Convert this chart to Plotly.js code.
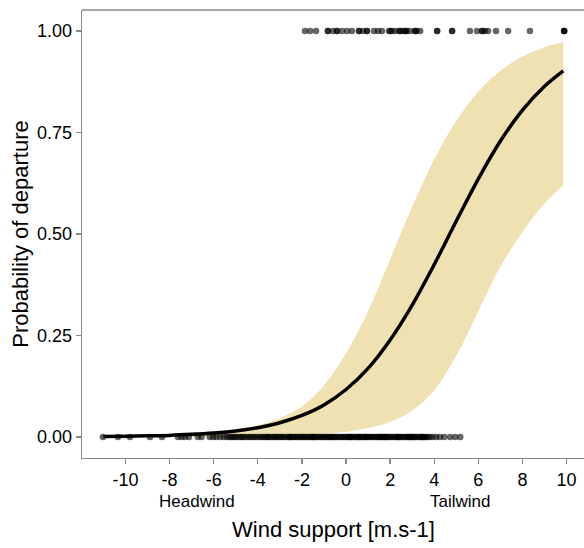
<!DOCTYPE html>
<html>
<head>
<meta charset="utf-8">
<script src="https://cdn.plot.ly/plotly-3.0.1.min.js"></script>
<style>html,body{margin:0;padding:0;background:#fff;}#chart{width:584px;height:548px;}</style>
</head>
<body>
<div id="chart"></div>
<script>
// Fitted curve and confidence band
var fitX     = [-11, -10, -9, -8, -7, -6, -5, -4, -3, -2, -1, 0, 1, 2, 3, 4, 5, 6, 7, 8, 9, 9.85];
var fitP     = [0.001, 0.002, 0.003, 0.004, 0.0065, 0.010, 0.015, 0.023, 0.035, 0.053, 0.079, 0.117, 0.169, 0.239, 0.325, 0.425, 0.532, 0.636, 0.729, 0.805, 0.864, 0.902];
var fitLower = [0.000, 0.000, 0.000, 0.000, 0.000, 0.001, 0.001, 0.002, 0.003, 0.004, 0.008, 0.013, 0.022, 0.037, 0.065, 0.115, 0.200, 0.310, 0.420, 0.505, 0.575, 0.620];
var fitUpper = [0.004, 0.005, 0.006, 0.008, 0.010, 0.014, 0.020, 0.029, 0.046, 0.075, 0.127, 0.206, 0.310, 0.438, 0.567, 0.684, 0.779, 0.851, 0.902, 0.937, 0.960, 0.973];

// Observations: departures (1) and non-departures (0)
var depX = [-1.86, -1.63, -1.36, -0.82, -0.82, -0.59, -0.41, -0.41, -0.18, 0.05, 0.27, 0.59, 0.59, 0.77, 0.95, 0.95, 1.27, 1.45, 1.63, 1.95, 2.00, 2.08, 2.22, 2.40, 2.45, 2.52, 2.68, 2.68, 2.75, 2.90, 3.13, 3.13, 3.20, 3.36, 4.13, 4.13, 4.81, 4.81, 5.62, 5.94, 6.17, 6.17, 6.30, 6.44, 6.80, 7.35, 8.34, 9.89, 9.89, 9.89];
var noDepX = [-11.02, -10.34, -9.80, -8.89, -8.34, -7.62, -7.45, -7.30, -7.12, -6.72, -6.55, -6.18, -6.02, -5.88, -5.70, -5.55, -5.40, -5.31, -5.12, -4.98, -4.85, -4.70, -4.52, -4.40, -4.22, -4.05, -3.93, -3.77, -3.60, -3.48, -3.30, -3.18, -3.02, -2.88, -2.71, -2.60, -2.45, -2.30, -2.17, -2.02, -1.90, -1.76, -1.62, -1.48, -1.33, -1.20, -1.05, -0.93, -0.80, -0.64, -0.52, -0.38, -0.22, -0.10, 0.04, 0.18, 0.30, 0.45, 0.58, 0.73, 0.86, 1.00, 1.14, 1.27, 1.42, 1.55, 1.70, 1.83, 1.97, 2.10, 2.26, 2.39, 2.52, 2.68, 2.80, 2.95, 3.08, 3.22, 3.37, 3.50, 3.63, 3.80, 3.92, 4.08, 4.25, 4.45, 4.72, 4.95, 5.18,
             -5.22, -5.05, -4.77, -4.61, -4.33, -4.14, -3.85, -3.69, -3.41, -3.24, -3.09, -2.94, -2.79, -2.53, -2.38, -2.24, -2.09, -1.96, -1.83, -1.69, -1.55, -1.41, -1.27, -1.12, -0.99, -0.86, -0.72, -0.58, -0.45, -0.31, -0.16, -0.03, 0.11, 0.24, 0.37, 0.51, 0.66, 0.79, 0.93, 1.07, 1.20, 1.35, 1.48, 1.62, 1.76, 1.90, 2.03, 2.18, 2.32, 2.46, 2.60, 2.74, 2.88, 3.01, 3.15, 3.29, 3.43, 3.56, 3.70,
             -1.50, -0.70, 0.15, 0.90, 1.60, 2.35, 3.00, 3.45, -2.55, -3.55, 0.60, 1.80, 2.85];
var depY = depX.map(function(){return 1;});
var noDepY = noDepX.map(function(){return 0;});

var xTickVals = [-10, -8, -6, -4, -2, 0, 2, 4, 6, 8, 10];
var xTickText = ["-10", "-8", "-6", "-4", "-2", "0", "2", "4", "6", "8", "10"];
var yTickVals = [0, 0.25, 0.5, 0.75, 1];
var yTickText = ["0.00", "0.25", "0.50", "0.75", "1.00"];
var sideLabels = ["Headwind", "Tailwind"];
var sideLabelX = [-6.77, 5.17];
var xTitle = "Wind support [m.s-1]";
var yTitle = "Probability of departure";

var font = "Liberation Sans, Arial, sans-serif";
var ribbon = "#EFE1B1";

var traces = [
  {x: fitX, y: fitLower, type: "scatter", mode: "lines", line: {width: 0, shape: "spline"}, hoverinfo: "skip", showlegend: false},
  {x: fitX, y: fitUpper, type: "scatter", mode: "lines", fill: "tonexty", fillcolor: ribbon, line: {width: 0, shape: "spline"}, hoverinfo: "skip", showlegend: false},
  {x: fitX, y: fitP, type: "scatter", mode: "lines", line: {color: "#000", width: 3.5, shape: "spline"}, showlegend: false},
  {x: noDepX, y: noDepY, type: "scatter", mode: "markers", marker: {color: "rgba(0,0,0,0.6)", size: 6.5, line: {width: 0}}, showlegend: false},
  {x: depX, y: depY, type: "scatter", mode: "markers", marker: {color: "rgba(0,0,0,0.6)", size: 6.5, line: {width: 0}}, showlegend: false}
];

var annotations = sideLabels.map(function(t, i){
  return {text: t, x: sideLabelX[i], xref: "x", y: 0, yref: "paper", yanchor: "middle", yshift: -43, showarrow: false, font: {family: font, size: 17, color: "#000"}};
});
annotations.push({text: xTitle, x: 0.5, xref: "paper", xanchor: "center", y: 0, yref: "paper", yanchor: "middle", yshift: -71, showarrow: false, font: {family: font, size: 22, color: "#000"}});

var layout = {
  width: 584, height: 548,
  margin: {l: 82, r: 0, t: 10, b: 90},
  paper_bgcolor: "#fff", plot_bgcolor: "#fff",
  xaxis: {range: [-11.97, 10.79], tickvals: xTickVals, ticktext: xTickText, ticks: "outside", ticklen: 5, tickwidth: 1.3, tickcolor: "#8a8a8a",
          showline: true, linecolor: "#8a8a8a", linewidth: 1.3, showgrid: false, zeroline: false,
          tickfont: {family: font, size: 18, color: "#000"}},
  yaxis: {range: [-0.0517, 1.0517], tickvals: yTickVals, ticktext: yTickText, ticks: "outside", ticklen: 5, tickwidth: 1.3, tickcolor: "#8a8a8a",
          showline: true, linecolor: "#8a8a8a", linewidth: 1.3, showgrid: false, zeroline: false,
          tickfont: {family: font, size: 18, color: "#000"},
          title: {text: yTitle, font: {family: font, size: 22, color: "#000"}, standoff: 2}},
  shapes: [{type: "line", xref: "paper", yref: "paper", x0: 0, x1: 1, y0: 1, y1: 1, line: {color: "#8a8a8a", width: 1.3}}],
  annotations: annotations,
  showlegend: false
};

Plotly.newPlot("chart", traces, layout, {displayModeBar: false, staticPlot: true});
</script>
</body>
</html>
